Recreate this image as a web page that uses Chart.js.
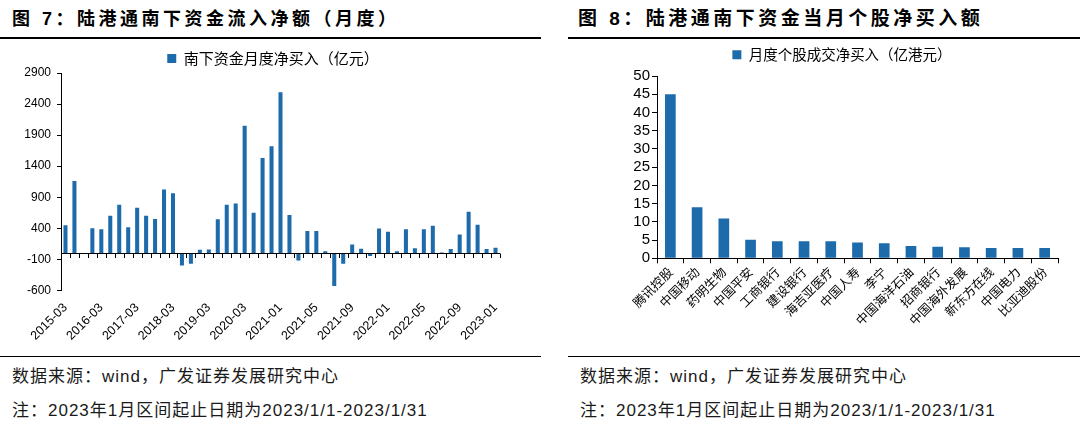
<!DOCTYPE html>
<html>
<head>
<meta charset="utf-8">
<script src="https://cdn.jsdelivr.net/npm/chart.js@4.4.1/dist/chart.umd.min.js"></script>
<style>
  html, body { margin:0; padding:0; background:#fff; }
  body { width:1080px; height:434px; position:relative; overflow:hidden; }
  .title { position:absolute; top:7px; font-family:"Liberation Sans","Noto Sans CJK SC",sans-serif; font-weight:700; font-size:18px; letter-spacing:3.5px; color:#000; white-space:nowrap; line-height:24px; }
  .rule { position:absolute; height:0; border-top:2px solid #000; }
  .foot { position:absolute; font-family:"Liberation Sans","Noto Sans CJK SC",sans-serif; font-size:17px; letter-spacing:1px; color:#1a1a1a; white-space:nowrap; line-height:22px; }
  .box { position:absolute; top:42px; height:314px; }
</style>
</head>
<body>
<div class="title" style="left:12px;">图 7：陆港通南下资金流入净额（月度）</div>
<div class="title" style="left:578px; font-size:19px;">图 8：陆港通南下资金当月个股净买入额</div>
<div class="rule" style="left:0; width:541px; top:37px;"></div>
<div class="rule" style="left:568px; width:512px; top:37px;"></div>

<div class="box" style="left:0; width:540px;"><canvas id="c1" width="540" height="314"></canvas></div>
<div class="box" style="left:560px; width:520px;"><canvas id="c2" width="520" height="314"></canvas></div>

<div class="rule" style="left:0; width:541px; top:356px; border-top-width:1.5px;"></div>
<div class="rule" style="left:568px; width:512px; top:356px; border-top-width:1.5px;"></div>
<div class="foot" style="left:12px; top:366px;">数据来源：wind，广发证券发展研究中心</div>
<div class="foot" style="left:12px; top:400px;">注：2023年1月区间起止日期为2023/1/1-2023/1/31</div>
<div class="foot" style="left:580px; top:366px;">数据来源：wind，广发证券发展研究中心</div>
<div class="foot" style="left:580px; top:400px;">注：2023年1月区间起止日期为2023/1/1-2023/1/31</div>

<script>
// ---- Data: chart 7 (南下资金月度净买入, 亿元) ----
const flowPeriods = [
  '2015-03','2015-06','2015-09','2015-12',
  '2016-03','2016-06','2016-09','2016-12',
  '2017-03','2017-06','2017-09','2017-12',
  '2018-03','2018-06','2018-09','2018-12',
  '2019-03','2019-06','2019-09','2019-12',
  '2020-03','2020-06','2020-09','2020-12',
  '2021-01','2021-02','2021-03','2021-04','2021-05','2021-06','2021-07','2021-08',
  '2021-09','2021-10','2021-11','2021-12',
  '2022-01','2022-02','2022-03','2022-04','2022-05','2022-06','2022-07','2022-08',
  '2022-09','2022-10','2022-11','2022-12',
  '2023-01'
];
const flowValues = [
  450, 1160, 0, 400,
  385, 600, 780, 415,
  730, 600, 550, 1025,
  965, -200, -170, 55,
  60, 545, 780, 800,
  2050, 650, 1530, 1720,
  2590, 615, -120, 355, 355, 30, -530, -170,
  140, 70, -45, 395,
  345, 30, 385, 80, 385, 440, 12, 65,
  300, 665, 455, 65,
  85
];
const flowTicks = [2900, 2400, 1900, 1400, 900, 400, -100, -600];
const flowLabelEvery = 4;

// ---- Data: chart 8 (月度个股成交净买入, 亿港元) ----
const stockNames = ['腾讯控股','中国移动','药明生物','中国平安','工商银行','建设银行','海吉亚医疗','中国人寿','李宁','中国海洋石油','招商银行','中国海外发展','新东方在线','中国电力','比亚迪股份'];
const stockValues = [45.0, 14.0, 10.9, 5.1, 4.7, 4.7, 4.7, 4.3, 4.1, 3.4, 3.2, 3.0, 2.8, 2.8, 2.8];
const stockTicks = [0, 5, 10, 15, 20, 25, 30, 35, 40, 45, 50];

const BLUE = '#1d6bab';
const LATIN = '"Liberation Sans", Arial, sans-serif';
const CJK = '"Noto Sans CJK SC", "Liberation Sans", sans-serif';

Chart.defaults.color = '#000';

const legendShift = {
  id: 'legendShift',
  afterLayout(chart, args, opts) {
    const lg = chart.legend;
    if (!lg) return;
    const dy = opts.dy || 0, dx = opts.dx || 0;
    lg.top += dy; lg.bottom += dy; lg.left += dx; lg.right += dx;
  }
};

const zeroAxis = {
  id: 'zeroAxis',
  afterDatasetsDraw(chart, args, opts) {
    if (!opts.enabled) return;
    const xs = chart.scales.x, ys = chart.scales.y;
    const y0 = ys.getPixelForValue(0);
    const n = chart.data.labels.length;
    const ctx = chart.ctx;
    ctx.save();
    ctx.strokeStyle = '#000';
    ctx.lineWidth = 1;
    ctx.beginPath();
    ctx.moveTo(xs.left, Math.round(y0) + 0.5);
    ctx.lineTo(xs.right, Math.round(y0) + 0.5);
    const half = (xs.getPixelForValue(1) - xs.getPixelForValue(0)) / 2;
    for (let i = 0; i <= n; i++) {
      const px = Math.round(xs.getPixelForValue(i) - half) + 0.5;
      ctx.moveTo(px, Math.round(y0) + 0.5);
      ctx.lineTo(px, Math.round(y0) + 5);
    }
    ctx.stroke();
    ctx.restore();
  }
};

const plainTick = v => String(v);

new Chart(document.getElementById('c1'), {
  type: 'bar',
  data: {
    labels: flowPeriods,
    datasets: [{
      label: '南下资金月度净买入（亿元）',
      data: flowValues,
      backgroundColor: BLUE,
      borderWidth: 0,
      barPercentage: 0.9,
      categoryPercentage: 0.5
    }]
  },
  plugins: [legendShift, zeroAxis],
  options: {
    responsive: false,
    animation: false,
    layout: { padding: { left: 0, right: 40, top: 0, bottom: 0 } },
    plugins: {
      legend: {
        position: 'top',
        labels: { boxWidth: 9, boxHeight: 9, padding: 6, color: '#000', font: { family: CJK, size: 15 } }
      },
      tooltip: { enabled: false },
      legendShift: { dy: 3, dx: 23 },
      zeroAxis: { enabled: true }
    },
    scales: {
      x: {
        grid: { display: false },
        border: { display: false },
        ticks: {
          autoSkip: false, maxRotation: 45, minRotation: 45, padding: 2,
          color: '#000', font: { family: LATIN, size: 12.5 },
          callback: (v, i) => (i % flowLabelEvery === 0 ? flowPeriods[i] : '')
        },
        afterFit: s => { s.height = 65.6; }
      },
      y: {
        min: -600, max: 2900,
        afterBuildTicks: s => { s.ticks = flowTicks.map(v => ({ value: v })); },
        ticks: { autoSkip: false, color: '#000', padding: 6, font: { family: LATIN, size: 12 }, callback: plainTick },
        grid: { drawOnChartArea: false, tickLength: 4, color: '#000' },
        border: { color: '#000', width: 1 },
        afterFit: s => { s.width = 61; }
      }
    }
  }
});

new Chart(document.getElementById('c2'), {
  type: 'bar',
  data: {
    labels: stockNames,
    datasets: [{
      label: '月度个股成交净买入（亿港元）',
      data: stockValues,
      backgroundColor: BLUE,
      borderWidth: 0,
      barPercentage: 0.8,
      categoryPercentage: 0.5
    }]
  },
  plugins: [legendShift],
  options: {
    responsive: false,
    animation: false,
    layout: { padding: { left: 0, right: 22, top: 4, bottom: 0 } },
    plugins: {
      legend: {
        position: 'top',
        labels: { boxWidth: 9, boxHeight: 9, padding: 5.5, color: '#000', font: { family: CJK, size: 14.5 } }
      },
      tooltip: { enabled: false },
      legendShift: { dy: -4, dx: 33 }
    },
    scales: {
      x: {
        grid: { display: true, drawOnChartArea: false, tickLength: 5, color: '#000' },
        border: { color: '#000', width: 1 },
        ticks: {
          autoSkip: false, maxRotation: 45, minRotation: 45, padding: 1,
          color: '#000', font: { family: CJK, size: 12.5 }
        },
        afterFit: s => { s.height = 97.7; }
      },
      y: {
        min: 0, max: 50,
        afterBuildTicks: s => { s.ticks = stockTicks.map(v => ({ value: v })); },
        ticks: { autoSkip: false, color: '#000', padding: 2, font: { family: LATIN, size: 15 }, callback: plainTick },
        grid: { drawOnChartArea: false, tickLength: 5, color: '#000' },
        border: { color: '#000', width: 1 },
        afterFit: s => { s.width = 97; }
      }
    }
  }
});
</script>
</body>
</html>
